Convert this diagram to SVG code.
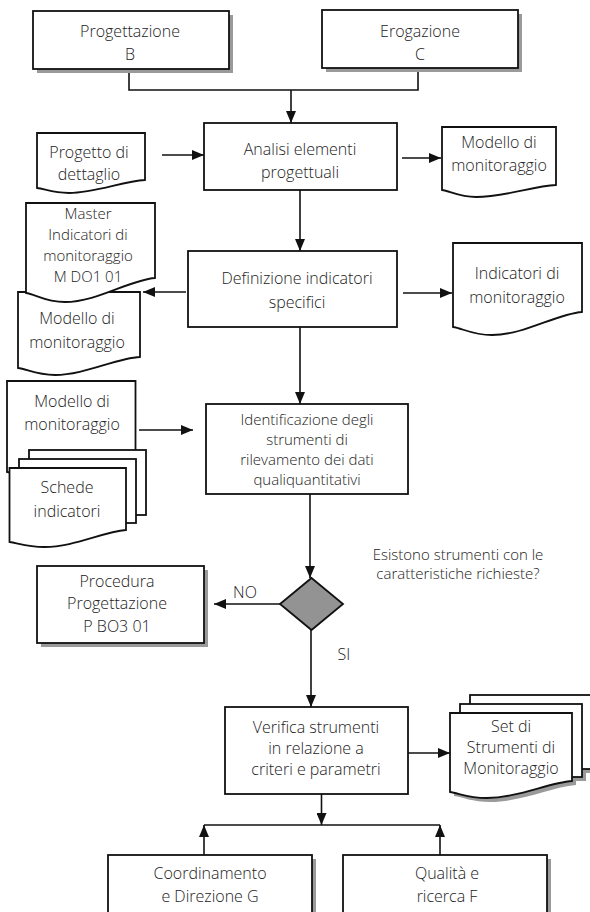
<svg xmlns="http://www.w3.org/2000/svg" width="590" height="912" viewBox="0 0 590 912">
<defs>
<style>
.box{fill:#fff;stroke:#111;stroke-width:1.8}
.shd{fill:#9a9a9a;stroke:none}
.ln{fill:none;stroke:#111;stroke-width:1.6}
.t{font-family:"Open Sans","Liberation Sans",sans-serif;font-weight:300;font-size:16px;fill:#222;text-anchor:middle}
.q{font-size:15px}
.s{font-size:15px}
</style>
<marker id="ah" viewBox="0 0 12 10" refX="12" refY="5" markerWidth="12" markerHeight="10" markerUnits="userSpaceOnUse" orient="auto">
<path d="M0,0 L12,5 L0,10 z" fill="#111"/>
</marker>
</defs>
<rect width="590" height="912" fill="#fff"/>

<g id="connectors">
<path class="ln" d="M129,71 V90 H418 V70"/>
<path class="ln" d="M291,90 V123" marker-end="url(#ah)"/>
<path class="ln" d="M162,155 H204" marker-end="url(#ah)"/>
<path class="ln" d="M402,158 H441" marker-end="url(#ah)"/>
<path class="ln" d="M300,190 V251" marker-end="url(#ah)"/>
<path class="ln" d="M186,292 H143" marker-end="url(#ah)"/>
<path class="ln" d="M403,293 H452" marker-end="url(#ah)"/>
<path class="ln" d="M300,327 V404" marker-end="url(#ah)"/>
<path class="ln" d="M139,430 H193" marker-end="url(#ah)"/>
<path class="ln" d="M310,494 V578" marker-end="url(#ah)"/>
<path class="ln" d="M280,604 H214" marker-end="url(#ah)"/>
<path class="ln" d="M311,630 V707" marker-end="url(#ah)"/>
<path class="ln" d="M408,753 H450" marker-end="url(#ah)"/>
<path class="ln" d="M321.5,794 V825" marker-end="url(#ah)"/>
<path class="ln" d="M204,825 H440"/>
<path class="ln" d="M204,855 V825" marker-end="url(#ah)"/>
<path class="ln" d="M440,855 V825" marker-end="url(#ah)"/>
</g>

<g id="progettazione-b">
<rect class="shd" x="37" y="15" width="196" height="58"/>
<rect class="box" x="33" y="11" width="196" height="58"/>
<text class="t" x="130" y="37">Progettazione</text>
<text class="t" x="130" y="60">B</text>
</g>

<g id="erogazione-c">
<rect class="shd" x="326" y="14" width="196" height="58"/>
<rect class="box" x="322" y="10" width="196" height="58"/>
<text class="t" x="420" y="37">Erogazione</text>
<text class="t" x="420" y="60">C</text>
</g>

<g id="analisi">
<rect class="box" x="204" y="123" width="193" height="67"/>
<text class="t" x="300" y="155">Analisi elementi</text>
<text class="t" x="300" y="178">progettuali</text>
</g>

<g id="progetto-dettaglio">
<path class="box" d="M37,133 H145 V180 C123,181 96,193 69,193 C53,193 45,189 37,188 Z"/>
<text class="t" x="89" y="158">Progetto di</text>
<text class="t" x="89" y="180">dettaglio</text>
</g>

<g id="modello-1">
<path class="box" d="M442,127 H556 V185 C533,186 505,197 476,197 C459,197 450,191 442,190 Z"/>
<text class="t" x="499" y="148">Modello di</text>
<text class="t" x="499" y="171">monitoraggio</text>
</g>

<g id="modello-2">
<path class="box" d="M18,292 H140 V357 C116,358 85,375 55,375 C36,375 27,369 18,368 Z"/>
<text class="t" x="77" y="324">Modello di</text>
<text class="t" x="77" y="348">monitoraggio</text>
</g>

<g id="master">
<path class="box" d="M26,203 H155 V278 C129,280 97,302 65,302 C45,302 35,294 26,293 Z"/>
<text class="t s" x="88" y="219">Master</text>
<text class="t s" x="88" y="240">Indicatori di</text>
<text class="t s" x="88" y="261">monitoraggio</text>
<text class="t s" x="88" y="282">M DO1 01</text>
</g>

<g id="definizione">
<rect class="box" x="188" y="251" width="209" height="76"/>
<text class="t" x="297" y="284">Definizione indicatori</text>
<text class="t" x="297" y="308">specifici</text>
</g>

<g id="indicatori">
<path class="box" d="M453,243 H582 V312 C556,314 524,335 492,335 C472,335 462,328 453,327 Z"/>
<text class="t" x="517" y="279">Indicatori di</text>
<text class="t" x="517" y="303">monitoraggio</text>
</g>

<g id="modello-3">
<path class="box" d="M7,381 H135.5 V465 C110,466 78,477 46,477 C26,477 16,473 7,472 Z"/>
<text class="t" x="72" y="407">Modello di</text>
<text class="t" x="72" y="430">monitoraggio</text>
</g>

<g id="schede">
<rect class="box" x="29" y="450" width="117" height="65"/>
<rect class="box" x="19" y="459" width="117" height="64"/>
<path class="box" d="M9.5,468 H126 V530 C102.5,532 73.5,547 44.5,547 C27,547 17.5,543 9.5,542 Z"/>
<text class="t" x="67" y="493">Schede</text>
<text class="t" x="67" y="517">indicatori</text>
</g>

<g id="identificazione">
<rect class="box" x="206" y="404" width="202" height="90"/>
<text class="t s" x="307" y="425">Identificazione degli</text>
<text class="t s" x="307" y="445">strumenti di</text>
<text class="t s" x="307" y="465">rilevamento dei dati</text>
<text class="t s" x="307" y="485">qualiquantitativi</text>
</g>

<g id="decisione">
<polygon points="311.5,578 343,604 311.5,630 280,604" fill="#939393" stroke="#111" stroke-width="1.8"/>
<text class="t q" x="458" y="560">Esistono strumenti con le</text>
<text class="t q" x="458" y="579">caratteristiche richieste?</text>
<text class="t" x="245" y="598">NO</text>
<text class="t" x="344" y="660">SI</text>
</g>

<g id="procedura">
<rect class="shd" x="41" y="570" width="167" height="77"/>
<rect class="box" x="37" y="566" width="167" height="77"/>
<text class="t" x="117" y="587">Procedura</text>
<text class="t" x="117" y="609">Progettazione</text>
<text class="t" x="117" y="632">P BO3 01</text>
</g>

<g id="verifica">
<rect class="box" x="225" y="707" width="183" height="87"/>
<text class="t" x="316" y="733">Verifica strumenti</text>
<text class="t" x="316" y="754">in relazione a</text>
<text class="t" x="316" y="775">criteri e parametri</text>
</g>

<g id="set-strumenti">
<rect class="shd" x="474" y="699" width="130" height="74"/>
<rect class="shd" x="464" y="708" width="122" height="73"/>
<path class="shd" d="M454,717 H576 V785 C551.6,787 521,802 490.6,802 C472,802 462.5,797 454,796 Z"/>
<rect class="box" x="470" y="695" width="130" height="74"/>
<rect class="box" x="460" y="704" width="122" height="73"/>
<path class="box" d="M450,713 H572 V781 C547.6,783 517,798 486.6,798 C468,798 458.5,793 450,792 Z"/>
<text class="t" x="511" y="732">Set di</text>
<text class="t" x="511" y="753">Strumenti di</text>
<text class="t" x="511" y="774">Monitoraggio</text>
</g>

<g id="coordinamento-g">
<rect class="shd" x="112" y="859" width="204" height="60"/>
<rect class="box" x="108" y="855" width="204" height="60"/>
<text class="t" x="210" y="879">Coordinamento</text>
<text class="t" x="210" y="902">e Direzione G</text>
</g>

<g id="qualita-f">
<rect class="shd" x="347" y="859" width="204" height="60"/>
<rect class="box" x="343" y="855" width="204" height="60"/>
<text class="t" x="447" y="879">Qualità e</text>
<text class="t" x="447" y="902">ricerca F</text>
</g>
</svg>
